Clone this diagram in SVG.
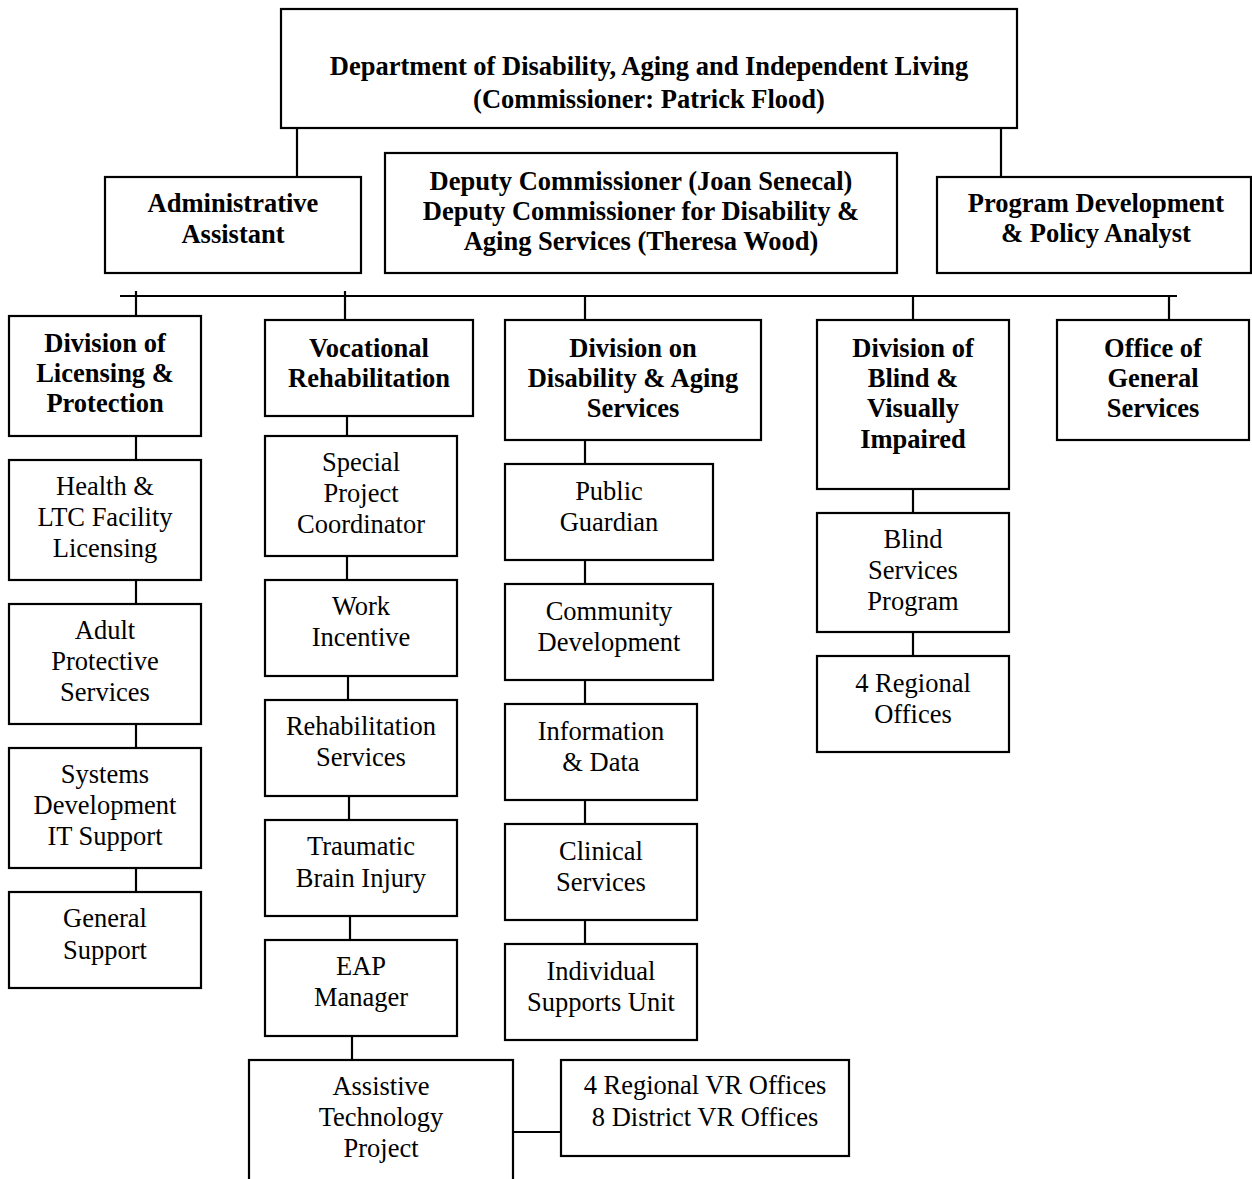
<svg xmlns="http://www.w3.org/2000/svg" width="1252" height="1179" viewBox="0 0 1252 1179">
<style>
rect{fill:#fff;stroke:#000;stroke-width:2.2}
.c line{stroke:#000;stroke-width:2.2}
text{font-family:"Liberation Serif","Times New Roman",serif;font-size:26.5px;text-anchor:middle;fill:#000}
.b{font-weight:bold}
</style>
<rect x="0" y="0" width="1252" height="1179" style="stroke:none"/>
<g class="c" id="connectors">
<line x1="297" y1="128" x2="297" y2="177"/>
<line x1="1001" y1="128" x2="1001" y2="177"/>
<line x1="120" y1="296" x2="1177" y2="296"/>
<line x1="136" y1="291" x2="136" y2="316"/>
<line x1="345" y1="291" x2="345" y2="320"/>
<line x1="585" y1="296" x2="585" y2="320"/>
<line x1="913" y1="296" x2="913" y2="320"/>
<line x1="1169" y1="296" x2="1169" y2="320"/>
<line x1="136" y1="436" x2="136" y2="460"/>
<line x1="136" y1="580" x2="136" y2="604"/>
<line x1="136" y1="724" x2="136" y2="748"/>
<line x1="136" y1="868" x2="136" y2="892"/>
<line x1="347" y1="416" x2="347" y2="436"/>
<line x1="347" y1="556" x2="347" y2="580"/>
<line x1="348" y1="676" x2="348" y2="700"/>
<line x1="349" y1="796" x2="349" y2="820"/>
<line x1="350" y1="916" x2="350" y2="940"/>
<line x1="352" y1="1036" x2="352" y2="1060"/>
<line x1="513" y1="1132" x2="561" y2="1132"/>
<line x1="585" y1="440" x2="585" y2="464"/>
<line x1="585" y1="560" x2="585" y2="584"/>
<line x1="585" y1="680" x2="585" y2="704"/>
<line x1="585" y1="800" x2="585" y2="824"/>
<line x1="585" y1="920" x2="585" y2="944"/>
<line x1="913" y1="489" x2="913" y2="513"/>
<line x1="913" y1="632" x2="913" y2="656"/>
</g>
<g id="dept"><rect x="281" y="9" width="736" height="119"/><text class="b" x="649" y="75">Department of Disability, Aging and Independent Living</text><text class="b" x="649" y="108">(Commissioner: Patrick Flood)</text></g>
<g id="admin"><rect x="105" y="177" width="256" height="96"/><text class="b" x="233" y="212">Administrative</text><text class="b" x="233" y="243">Assistant</text></g>
<g id="deputy"><rect x="385" y="153" width="512" height="120"/><text class="b" x="641" y="190">Deputy Commissioner (Joan Senecal)</text><text class="b" x="641" y="220">Deputy Commissioner for Disability &amp;</text><text class="b" x="641" y="250">Aging Services (Theresa Wood)</text></g>
<g id="progdev"><rect x="937" y="177" width="314" height="96"/><text class="b" x="1096" y="212">Program Development</text><text class="b" x="1096" y="242">&amp; Policy Analyst</text></g>
<g id="licensing"><rect x="9" y="316" width="192" height="120"/><text class="b" x="105" y="352">Division of</text><text class="b" x="105" y="382">Licensing &amp;</text><text class="b" x="105" y="412">Protection</text></g>
<g id="vocrehab"><rect x="265" y="320" width="208" height="96"/><text class="b" x="369" y="357">Vocational</text><text class="b" x="369" y="387">Rehabilitation</text></g>
<g id="disability"><rect x="505" y="320" width="256" height="120"/><text class="b" x="633" y="357">Division on</text><text class="b" x="633" y="387">Disability &amp; Aging</text><text class="b" x="633" y="417">Services</text></g>
<g id="blind"><rect x="817" y="320" width="192" height="169"/><text class="b" x="913" y="357">Division of</text><text class="b" x="913" y="387">Blind &amp;</text><text class="b" x="913" y="417">Visually</text><text class="b" x="913" y="448">Impaired</text></g>
<g id="general"><rect x="1057" y="320" width="192" height="120"/><text class="b" x="1153" y="357">Office of</text><text class="b" x="1153" y="387">General</text><text class="b" x="1153" y="417">Services</text></g>
<g id="health"><rect x="9" y="460" width="192" height="120"/><text x="105" y="495">Health &amp;</text><text x="105" y="526">LTC Facility</text><text x="105" y="557">Licensing</text></g>
<g id="adult"><rect x="9" y="604" width="192" height="120"/><text x="105" y="639">Adult</text><text x="105" y="670">Protective</text><text x="105" y="701">Services</text></g>
<g id="systems"><rect x="9" y="748" width="192" height="120"/><text x="105" y="783">Systems</text><text x="105" y="814">Development</text><text x="105" y="845">IT Support</text></g>
<g id="gensupport"><rect x="9" y="892" width="192" height="96"/><text x="105" y="927">General</text><text x="105" y="959">Support</text></g>
<g id="special"><rect x="265" y="436" width="192" height="120"/><text x="361" y="471">Special</text><text x="361" y="502">Project</text><text x="361" y="533">Coordinator</text></g>
<g id="work"><rect x="265" y="580" width="192" height="96"/><text x="361" y="615">Work</text><text x="361" y="646">Incentive</text></g>
<g id="rehab"><rect x="265" y="700" width="192" height="96"/><text x="361" y="735">Rehabilitation</text><text x="361" y="766">Services</text></g>
<g id="tbi"><rect x="265" y="820" width="192" height="96"/><text x="361" y="855">Traumatic</text><text x="361" y="887">Brain Injury</text></g>
<g id="eap"><rect x="265" y="940" width="192" height="96"/><text x="361" y="975">EAP</text><text x="361" y="1006">Manager</text></g>
<g id="assistive"><rect x="249" y="1060" width="264" height="140"/><text x="381" y="1095">Assistive</text><text x="381" y="1126">Technology</text><text x="381" y="1157">Project</text></g>
<g id="vroffices"><rect x="561" y="1060" width="288" height="96"/><text x="705" y="1094">4 Regional VR Offices</text><text x="705" y="1126">8 District VR Offices</text></g>
<g id="guardian"><rect x="505" y="464" width="208" height="96"/><text x="609" y="500">Public</text><text x="609" y="531">Guardian</text></g>
<g id="community"><rect x="505" y="584" width="208" height="96"/><text x="609" y="620">Community</text><text x="609" y="651">Development</text></g>
<g id="info"><rect x="505" y="704" width="192" height="96"/><text x="601" y="740">Information</text><text x="601" y="771">&amp; Data</text></g>
<g id="clinical"><rect x="505" y="824" width="192" height="96"/><text x="601" y="860">Clinical</text><text x="601" y="891">Services</text></g>
<g id="individual"><rect x="505" y="944" width="192" height="96"/><text x="601" y="980">Individual</text><text x="601" y="1011">Supports Unit</text></g>
<g id="blindsvc"><rect x="817" y="513" width="192" height="119"/><text x="913" y="548">Blind</text><text x="913" y="579">Services</text><text x="913" y="610">Program</text></g>
<g id="regional"><rect x="817" y="656" width="192" height="96"/><text x="913" y="692">4 Regional</text><text x="913" y="723">Offices</text></g>
</svg>
